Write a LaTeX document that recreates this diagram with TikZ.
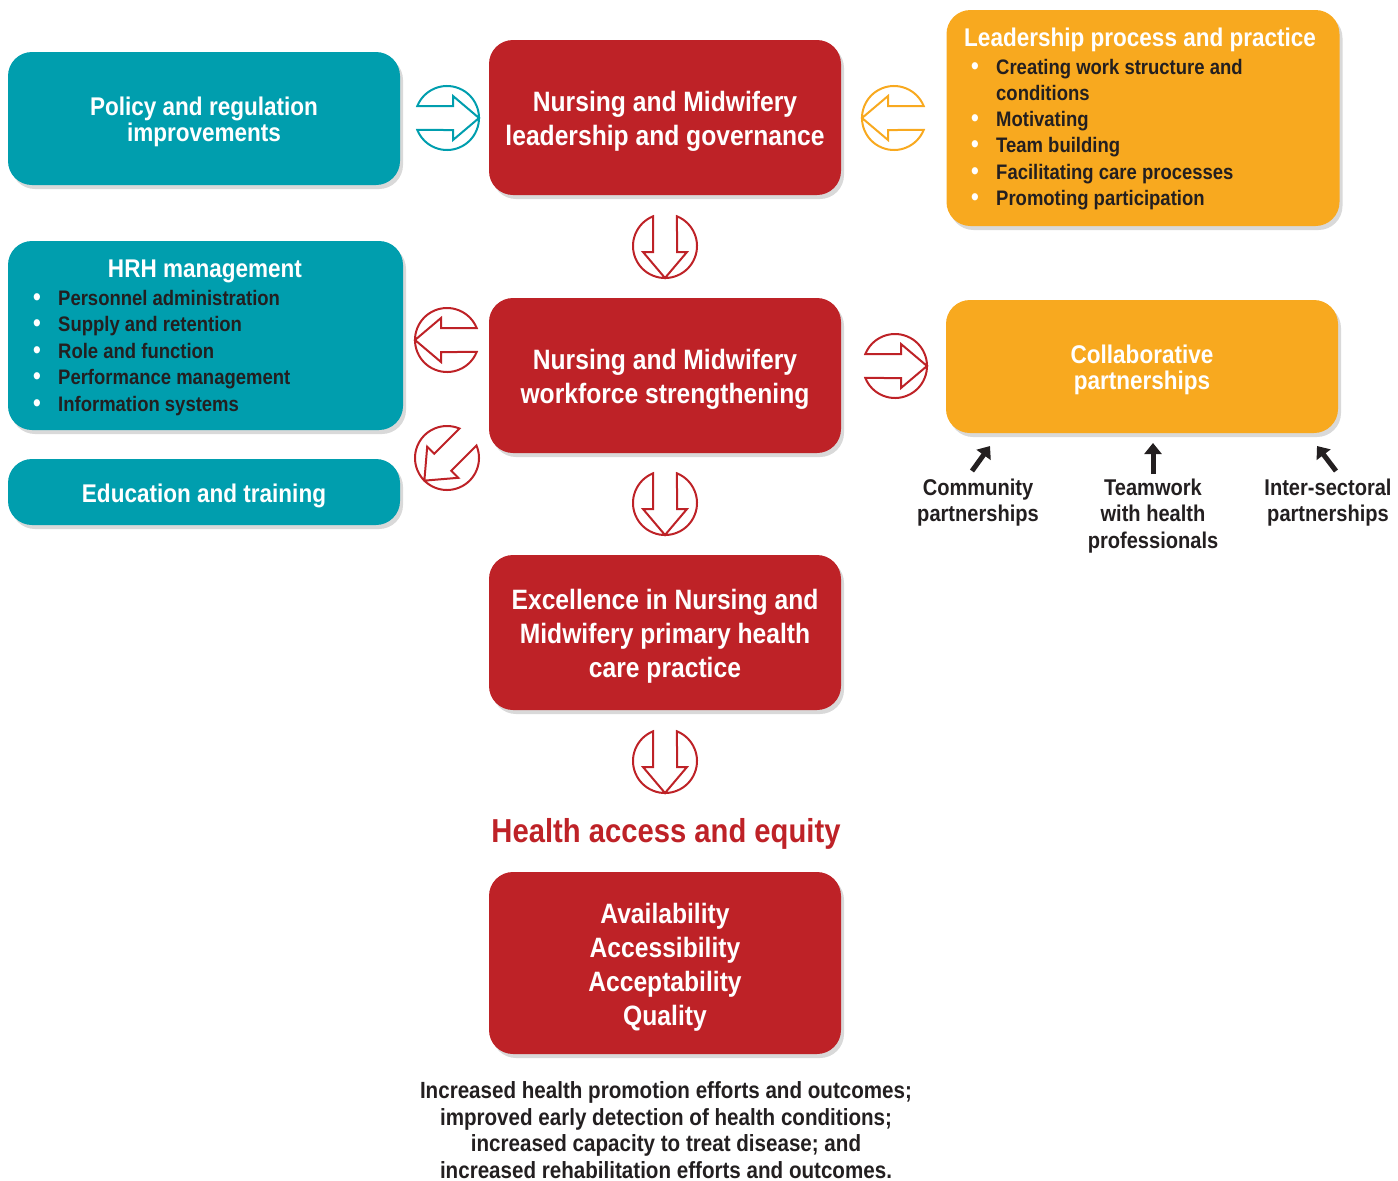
\documentclass[tikz,border=0pt]{standalone}
\usepackage{fontspec}
\setmainfont{Liberation Sans}[FakeStretch=0.88]
\usetikzlibrary{shadows,arrows.meta}

\definecolor{nmred}{RGB}{190,34,39}
\definecolor{nmteal}{RGB}{0,158,174}
\definecolor{nmorange}{RGB}{248,169,31}
\definecolor{nmtext}{RGB}{35,31,32}

\newcommand{\bul}[1]{\makebox[25pt][l]{\color{white}\fontsize{25}{26}\selectfont\textbullet}#1}
\newcommand{\lift}{\rule{0pt}{1.01em}}

\tikzset{
  circarrow/.pic={
    \draw[line width=2pt] (158:32pt) arc[start angle=158, end angle=-158, radius=32pt]
      -- (6pt,-12pt) -- (6pt,-22pt) -- (32pt,0pt) -- (6pt,22pt) -- (6pt,12pt) -- cycle;
  },
  box/.style={rounded corners=24pt, inner sep=0pt, align=center, text=white,
    drop shadow={shadow xshift=3pt, shadow yshift=-4pt, opacity=0.3}},
  redbox/.style={box, fill=nmred, minimum width=352pt, minimum height=155pt,
    font=\bfseries\fontsize{28}{34}\selectfont},
  tealbox/.style={box, fill=nmteal, minimum width=392pt,
    font=\bfseries\fontsize{25.6}{26}\selectfont},
  orangebox/.style={box, fill=nmorange, minimum width=393pt,
    font=\bfseries\fontsize{25.6}{26}\selectfont},
  boxtitle/.style={inner sep=0pt, text=white, font=\bfseries\fontsize{25.6}{26}\selectfont},
  item/.style={inner sep=0pt, anchor=base west, text=nmtext, font=\bfseries\fontsize{21}{26}\selectfont},
  partlabel/.style={inner sep=0pt, align=center, text=nmtext, font=\bfseries\fontsize{22.8}{26.5}\selectfont},
  partarrow/.style={line width=5pt, nmtext, -{Triangle[length=11pt,width=17pt]}}
}

\begin{document}
\begin{tikzpicture}[x=1pt,y=1pt]
\useasboundingbox (0,0) rectangle (1398,-1181);

% left column
\node[tealbox, minimum height=133pt] (policy) at (204,-118.5) {\lift Policy and regulation\\improvements};
\node[tealbox, minimum width=395pt, minimum height=189pt] (hrh) at (205.5,-335.5) {};
\node[tealbox, minimum height=66pt] (edu) at (204,-492) {\lift Education and training};

\node[boxtitle, anchor=base] (hrhtitle) at (205,-277) {HRH management};
\node[item] (hrh1) at (33,-305) {\bul{Personnel administration}};
\node[item] (hrh2) at (33,-331.5) {\bul{Supply and retention}};
\node[item] (hrh3) at (33,-358) {\bul{Role and function}};
\node[item] (hrh4) at (33,-384.5) {\bul{Performance management}};
\node[item] (hrh5) at (33,-411) {\bul{Information systems}};

% middle column
\node[redbox] (lead) at (665,-117.5) {\lift Nursing and Midwifery\\leadership and governance};
\node[redbox] (work) at (665,-375.5) {\lift Nursing and Midwifery\\workforce strengthening};
\node[redbox] (excel) at (665,-632.5) {\lift Excellence in Nursing and\\Midwifery primary health\\care practice};
\node[text=nmred, inner sep=0pt, font=\bfseries\fontsize{33.2}{36}\selectfont] (equity) at (666,-834) {Health access and equity};
\node[redbox, minimum height=182pt] (avail) at (665,-963) {\lift Availability\\Accessibility\\Acceptability\\Quality};
\node[partlabel, font=\bfseries\fontsize{23.4}{26.5}\selectfont] (outcomes) at (666,-1130)
  {Increased health promotion efforts and outcomes;\\improved early detection of health conditions;\\increased capacity to treat disease; and\\increased rehabilitation efforts and outcomes.};

% right column
\node[orangebox, minimum height=216pt] (process) at (1143,-118) {};
\node[boxtitle, anchor=base west] (proctitle) at (964,-46) {Leadership process and practice};
\node[item] (proc1) at (971,-74) {\bul{Creating work structure and}};
\node[item] (proc1b) at (971,-100.3) {\hspace*{25pt}conditions};
\node[item] (proc2) at (971,-126.6) {\bul{Motivating}};
\node[item] (proc3) at (971,-152.9) {\bul{Team building}};
\node[item] (proc4) at (971,-179.2) {\bul{Facilitating care processes}};
\node[item] (proc5) at (971,-205.5) {\bul{Promoting participation}};

\node[orangebox, minimum width=392pt, minimum height=133pt] (collab) at (1142,-366.5) {\lift Collaborative\\partnerships};

\node[partlabel] (comm) at (978,-502.5) {Community\\partnerships};
\node[partlabel] (team) at (1153,-515.7) {Teamwork\\with health\\professionals};
\node[partlabel] (inter) at (1328,-502.5) {Inter-sectoral\\partnerships};

\coordinate (comma) at (972,-471);
\coordinate (commb) at (990,-446);
\coordinate (teama) at (1153,-474);
\coordinate (teamb) at (1153,-443);
\coordinate (intera) at (1336,-471);
\coordinate (interb) at (1317,-446);
\draw[partarrow] (comma) -- (commb);
\draw[partarrow] (teama) -- (teamb);
\draw[partarrow] (intera) -- (interb);

% circled arrows
\pic[color=nmteal] (ca1) at (447,-118) {circarrow};
\pic[color=nmorange, rotate=180] (ca2) at (894,-118) {circarrow};
\pic[color=nmred, rotate=-90] (ca3) at (665,-246) {circarrow};
\pic[color=nmred, rotate=180] (ca4) at (447,-340) {circarrow};
\pic[color=nmred, rotate=225] (ca5) at (447,-458) {circarrow};
\pic[color=nmred] (ca6) at (895,-366) {circarrow};
\pic[color=nmred, rotate=-90] (ca7) at (665,-503) {circarrow};
\pic[color=nmred, rotate=-90] (ca8) at (665,-761) {circarrow};

\end{tikzpicture}
\end{document}
